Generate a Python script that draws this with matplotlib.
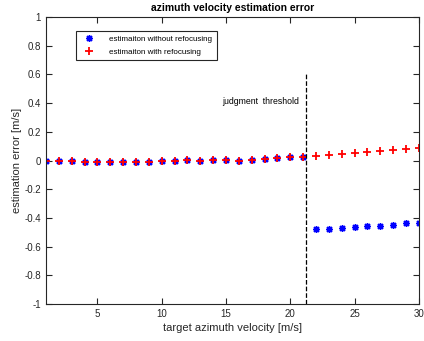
import matplotlib.pyplot as plt
import numpy as np

speed = np.arange(1, 31)

err_refocus = [0.0, -0.005, -0.005, -0.01, -0.01, -0.01, -0.01, -0.01, -0.008, -0.003,
               0.0, 0.003, 0.0, 0.005, 0.005, 0.0, 0.001, 0.01, 0.017, 0.024,
               0.028, 0.034, 0.036, 0.043, 0.05, 0.059, 0.068, 0.073, 0.082, 0.089]
err_no_refocus = err_refocus[:21] + [-0.475, -0.475, -0.47, -0.463, -0.456,
                                     -0.454, -0.447, -0.438, -0.433]

threshold = 21.2

plt.rcParams['font.family'] = ['Liberation Sans', 'DejaVu Sans']

fig = plt.figure(figsize=(4.24, 3.41), dpi=100)
ax = fig.add_axes([0.1085, 0.1085, 0.8795, 0.8415])

# matlab style asterisk
ax.plot(speed, err_no_refocus, marker=(8, 2, 0), linestyle='none', color='blue',
        markersize=5, markeredgewidth=1.0, label='estimaiton without refocusing')
ax.plot(speed, err_refocus, '+', color='red', markersize=6, markeredgewidth=1.3,
        label='estimaiton with refocusing')

ax.plot([threshold, threshold], [-1, 0.6], '--', color='black', linewidth=0.9)
ax.text(14.7, 0.41, 'judgment  threshold', fontsize=6.3, va='center', ha='left')

ax.set_xlim(1, 30)
ax.set_ylim(-1, 1)
ax.set_xticks([5, 10, 15, 20, 25, 30])
ax.set_yticks(np.arange(-1, 1.01, 0.2))
ax.set_yticklabels(['-1', '-0.8', '-0.6', '-0.4', '-0.2', '0', '0.2', '0.4', '0.6', '0.8', '1'])
ax.tick_params(direction='in', top=True, right=True, labelsize=7, length=4,
               colors='#262626', labelcolor='#262626')
for s in ax.spines.values():
    s.set_color('#262626')
    s.set_linewidth(0.8)

ax.set_title('azimuth velocity estimation error', fontsize=7.5, fontweight='bold', pad=4)
ax.set_xlabel('target azimuth velocity [m/s]', fontsize=8, color='#262626', labelpad=3)
ax.set_ylabel('estimation error [m/s]', fontsize=8, color='#262626', labelpad=2)

leg = ax.legend(loc='upper left', bbox_to_anchor=(0.08, 0.951), borderaxespad=0,
                fontsize=5.8, fancybox=False, edgecolor='#262626', framealpha=1,
                borderpad=0.55, handletextpad=1.4, handlelength=2.2, labelspacing=0.6)
leg.get_frame().set_linewidth(0.8)

fig.savefig('out.png', dpi=100)
